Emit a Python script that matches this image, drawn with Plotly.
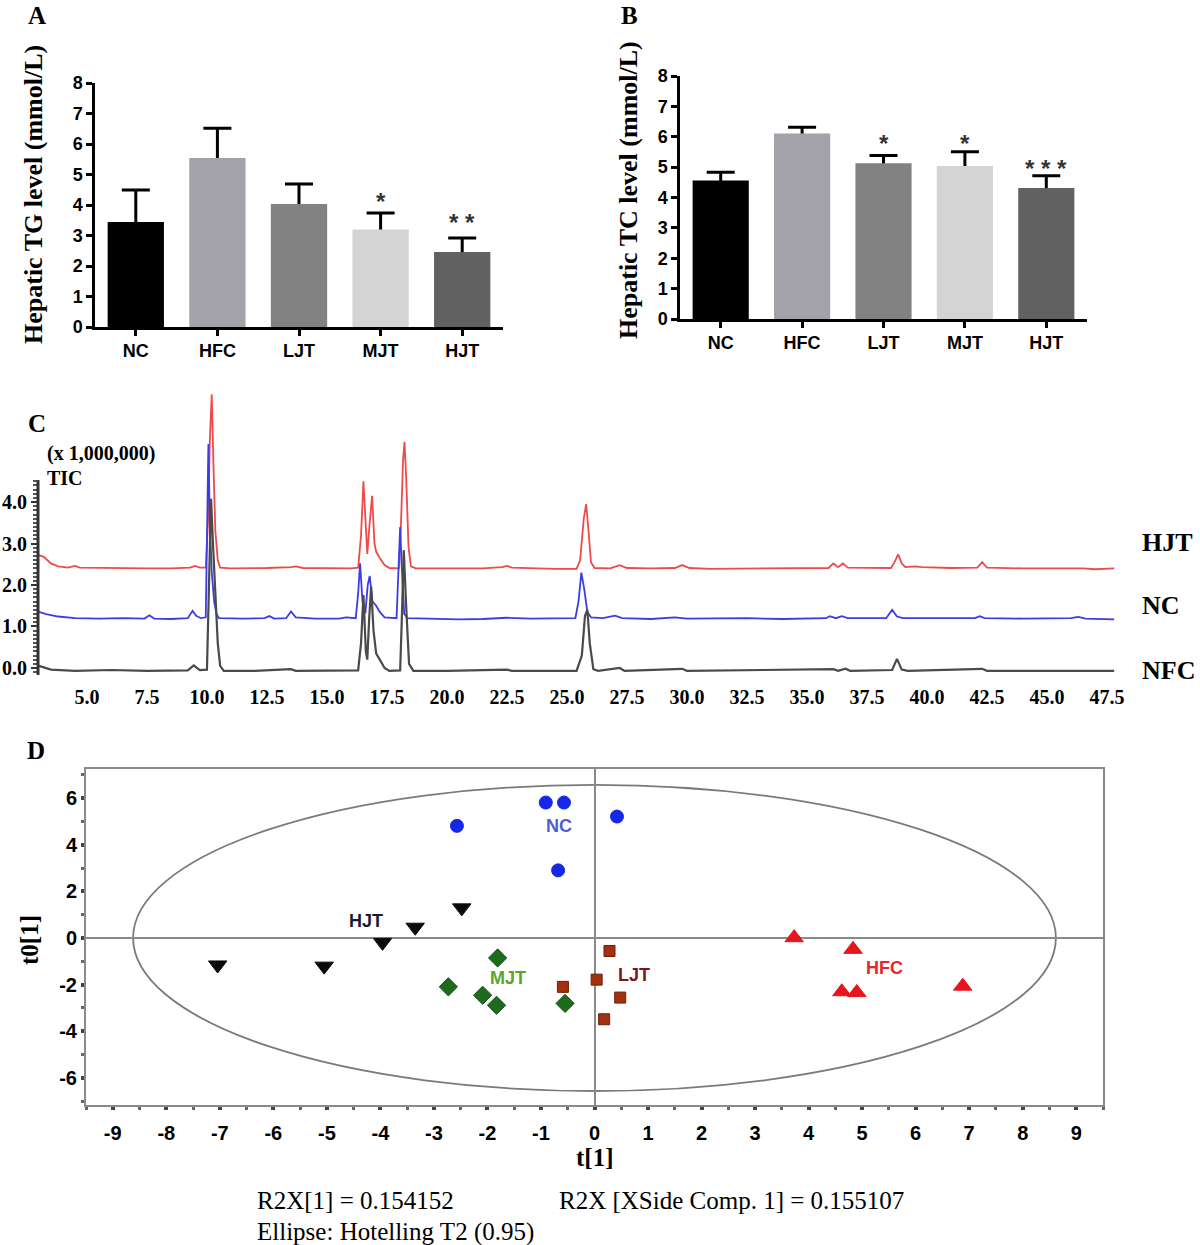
import plotly.graph_objects as go

W, H = 1200, 1245
SERIF = "Liberation Serif, Times New Roman, serif"
SANS = "Liberation Sans, Arial, sans-serif"

# ---------------- Panel A / B data ----------------
groups = ["NC", "HFC", "LJT", "MJT", "HJT"]
bar_colors = ["#000000", "#a2a2a8", "#828282", "#d4d4d4", "#616161"]

tg_mean = [3.44, 5.54, 4.03, 3.20, 2.46]
tg_err = [1.05, 0.98, 0.66, 0.54, 0.46]
tg_sig = ["", "", "", "*", "* *"]
tg_sig_y = [None, None, None, 4.30, 3.61]

tc_mean = [4.56, 6.11, 5.13, 5.04, 4.31]
tc_err = [0.27, 0.20, 0.25, 0.47, 0.41]
tc_sig = ["", "", "*", "*", "* * *"]
tc_sig_y = [None, None, 5.99, 5.99, 5.16]

# ---------------- Panel C data (retention time, intensity x1e6) ----------------
hjt_t = [3.0, 3.2, 3.5, 3.8, 4.2, 4.5, 4.7, 5.5, 6.0, 6.5, 7.5, 8.5, 9.3, 9.5, 9.7, 9.95,
         10.05, 10.12, 10.2, 10.27, 10.35, 10.45, 10.55, 11.0, 12.0, 12.5, 13.5, 13.7, 14.0,
         15.0, 16.0, 16.3, 16.42, 16.52, 16.62, 16.68, 16.78, 16.88, 16.98, 17.05, 17.2, 17.4,
         17.6, 18.0, 18.08, 18.17, 18.23, 18.3, 18.4, 18.5, 18.7, 19.5, 20.5, 21.5, 22.3, 22.5,
         22.7, 23.5, 24.5, 25.4, 25.55, 25.7, 25.8, 25.9, 26.0, 26.15, 26.8, 27.2, 27.5, 28.5,
         29.5, 29.8, 30.1, 31.0, 33.0, 35.0, 35.9, 36.1, 36.3, 36.5, 36.7, 38.5, 38.65, 38.8,
         38.95, 39.1, 39.5, 39.8, 41.0, 42.1, 42.3, 42.5, 44.0, 46.5, 47.0, 47.8]
hjt_v = [2.72, 2.68, 2.52, 2.45, 2.42, 2.46, 2.42, 2.41, 2.42, 2.40, 2.40, 2.40, 2.42, 2.46, 2.42, 2.42,
         3.60, 5.50, 6.60, 4.90, 3.30, 2.60, 2.42, 2.40, 2.40, 2.41, 2.43, 2.45, 2.41,
         2.40, 2.40, 2.42, 3.20, 4.50, 3.30, 2.75, 3.50, 4.15, 3.00, 2.80, 2.65, 2.48,
         2.41, 2.40, 3.40, 5.00, 5.45, 4.60, 2.90, 2.45, 2.40, 2.40, 2.40, 2.40, 2.43, 2.46,
         2.42, 2.40, 2.39, 2.39, 2.60, 3.60, 3.95, 3.30, 2.55, 2.41, 2.40, 2.48, 2.41, 2.40,
         2.41, 2.48, 2.41, 2.39, 2.40, 2.40, 2.41, 2.52, 2.43, 2.52, 2.42, 2.41, 2.55, 2.74,
         2.52, 2.43, 2.45, 2.43, 2.41, 2.42, 2.55, 2.42, 2.40, 2.40, 2.38, 2.40]

nc_t = [3.0, 3.3, 3.8, 4.5, 5.5, 6.5, 7.4, 7.6, 7.8, 8.5, 9.2, 9.4, 9.55, 9.75, 9.95, 10.0,
        10.06, 10.12, 10.2, 10.3, 10.4, 10.5, 11.5, 12.4, 12.6, 12.8, 13.3, 13.5, 13.7, 14.5,
        15.5, 15.8, 16.2, 16.3, 16.38, 16.48, 16.6, 16.7, 16.78, 16.9, 17.05, 17.2, 17.4, 17.9,
        17.98, 18.05, 18.12, 18.22, 18.35, 19.5, 20.5, 21.5, 22.5, 23.5, 24.5, 25.35, 25.48,
        25.6, 25.72, 25.85, 26.0, 26.5, 27.0, 27.3, 28.5, 29.5, 30.0, 31.5, 32.5, 34.0, 35.8,
        35.95, 36.2, 36.45, 36.7, 38.3, 38.55, 38.75, 39.0, 40.5, 42.0, 42.2, 42.4, 44.0, 46.0,
        46.3, 46.6, 47.8]
nc_v = [1.35, 1.30, 1.24, 1.20, 1.19, 1.20, 1.19, 1.27, 1.19, 1.18, 1.20, 1.38, 1.26, 1.20, 1.22, 3.00,
        5.40, 3.50, 2.30, 1.60, 1.30, 1.20, 1.19, 1.20, 1.25, 1.19, 1.20, 1.36, 1.22, 1.19,
        1.19, 1.22, 1.20, 1.80, 2.52, 1.60, 1.32, 2.00, 2.22, 1.60, 1.50, 1.35, 1.22, 1.20,
        2.50, 3.40, 2.40, 1.30, 1.20, 1.19, 1.17, 1.18, 1.21, 1.19, 1.20, 1.20, 1.60,
        2.30, 1.90, 1.35, 1.22, 1.20, 1.26, 1.20, 1.18, 1.22, 1.19, 1.19, 1.20, 1.18, 1.20,
        1.25, 1.20, 1.25, 1.20, 1.20, 1.40, 1.24, 1.20, 1.20, 1.20, 1.25, 1.20, 1.19, 1.20,
        1.23, 1.19, 1.17]

nfc_t = [3.0, 3.2, 3.5, 4.5, 6.0, 7.5, 9.2, 9.45, 9.7, 10.0, 10.08, 10.17, 10.25, 10.35, 10.45,
         10.55, 10.7, 12.0, 13.5, 13.7, 15.0, 16.3, 16.42, 16.52, 16.62, 16.68, 16.76, 16.84,
         16.94, 17.05, 17.2, 17.4, 17.6, 18.05, 18.12, 18.2, 18.3, 18.42, 18.6, 20.0, 22.5, 22.7,
         25.4, 25.62, 25.75, 25.85, 25.95, 26.1, 26.3, 27.2, 27.4, 29.8, 30.0, 36.1, 36.3, 36.6,
         36.8, 38.55, 38.75, 38.95, 39.2, 42.3, 42.5, 47.8]
nfc_v = [0.05, 0.02, -0.04, -0.07, -0.05, -0.07, -0.06, 0.06, -0.05, -0.04, 1.80, 4.08, 3.00, 1.70, 0.60,
         0.05, -0.07, -0.07, -0.03, -0.07, -0.07, -0.06, 0.60, 1.76, 0.40, 0.20, 1.20, 1.96,
         0.90, 0.35, 0.20, 0.00, -0.07, -0.06, 1.20, 2.84, 1.50, 0.10, -0.07, -0.07, -0.04, -0.07,
         -0.07, 0.30, 1.25, 1.40, 0.60, -0.03, -0.07, 0.00, -0.07, -0.02, -0.07, -0.03, -0.07, -0.02,
         -0.07, -0.05, 0.22, -0.04, -0.07, -0.02, -0.07, -0.07]

chrom_names = ["HJT", "NC", "NFC"]
chrom_colors = ["#ef4a4a", "#3c3ce6", "#4a4a4a"]

# ---------------- Panel D data (scores) ----------------
nc_t1 = [-0.91, -0.57, -2.57, -0.68, 0.42]
nc_t0 = [5.81, 5.81, 4.81, 2.90, 5.21]
hjt_t1 = [-2.48, -3.35, -3.96, -5.05, -7.04]
hjt_t0 = [1.29, 0.46, -0.19, -1.21, -1.16]
mjt_t1 = [-1.81, -2.73, -2.09, -1.83, -0.55]
mjt_t0 = [-0.86, -2.10, -2.46, -2.89, -2.81]
ljt_t1 = [-0.59, 0.04, 0.28, 0.48, 0.18]
ljt_t0 = [-2.10, -1.79, -0.56, -2.56, -3.49]
hfc_t1 = [3.73, 4.83, 4.62, 4.90, 6.88]
hfc_t0 = [0.01, -0.49, -2.31, -2.34, -2.07]

d_label_text = ["NC", "HJT", "MJT", "LJT", "HFC"]
d_label_x = [-0.66, -4.26, -1.62, 0.74, 5.42]
d_label_y = [4.79, 0.71, -1.71, -1.60, -1.27]
d_label_colors = ["#4b5fd6", "#1a1a2e", "#5aa62a", "#7a1526", "#e8252a"]

ellipse_a = 8.62
ellipse_b = 6.57

d_xticks = list(range(-9, 10))
d_yticks = [-6, -4, -2, 0, 2, 4, 6]

# ---------------- helpers ----------------
def xd(a, b):
    return [a / W, b / W]


def yd(top, bottom):
    return [1 - bottom / H, 1 - top / H]


def ann(text, px, py, size, family=SERIF, bold=True, color="black", angle=0, xanchor="center"):
    return dict(text=text, x=px / W, y=1 - py / H, xref="paper", yref="paper", showarrow=False,
                xanchor=xanchor, yanchor="middle", textangle=angle,
                font=dict(family=family, size=size, color=color, weight="bold" if bold else "normal"))


fig = go.Figure()

# ---------------- Panels A and B ----------------
for (means, errs, xa, ya) in [(tg_mean, tg_err, "x", "y"), (tc_mean, tc_err, "x2", "y2")]:
    fig.add_trace(go.Bar(x=groups, y=means, xaxis=xa, yaxis=ya, width=0.69,
                         marker=dict(color="rgba(0,0,0,0)", line=dict(width=0)),
                         error_y=dict(type="data", symmetric=False, array=errs,
                                      arrayminus=[0.3] * len(groups), color="black",
                                      thickness=3, width=14),
                         showlegend=False, hoverinfo="skip"))
    fig.add_trace(go.Bar(x=groups, y=means, xaxis=xa, yaxis=ya, width=0.69,
                         marker=dict(color=bar_colors, line=dict(width=0)),
                         showlegend=False))

# ---------------- Panel C ----------------
for t, v, c, name in zip([hjt_t, nc_t, nfc_t], [hjt_v, nc_v, nfc_v], chrom_colors, chrom_names):
    fig.add_trace(go.Scatter(x=t, y=v, mode="lines", name=name,
                             line=dict(color=c, width=1.8 if name != "NFC" else 2.2),
                             xaxis="x3", yaxis="y3", showlegend=False))

# ---------------- Panel D ----------------
d_series = [
    (nc_t1, nc_t0, "circle", 13, "#1428e6", "#1428e6"),
    (hjt_t1, hjt_t0, "triangle-down", 16, "#0a0a0a", "#0a0a0a"),
    (mjt_t1, mjt_t0, "diamond", 14, "#1e6b1e", "#154d15"),
    (ljt_t1, ljt_t0, "square", 11, "#a3300f", "#6e1f08"),
    (hfc_t1, hfc_t0, "triangle-up", 16, "#e8141e", "#e8141e"),
]
for xs, ys, sym, size, col, lc in d_series:
    fig.add_trace(go.Scatter(x=xs, y=ys, mode="markers", xaxis="x4", yaxis="y4",
                             marker=dict(symbol=sym, size=size, color=col, line=dict(color=lc, width=1)),
                             showlegend=False))

# ---------------- axes ----------------
bar_x = dict(range=[-0.5, 4.5], showline=True, linecolor="black", linewidth=2.5,
             ticks="outside", ticklen=6, tickwidth=2.5, tickcolor="black",
             showgrid=False, zeroline=False, fixedrange=True,
             tickfont=dict(family=SANS, size=18, color="black", weight="bold"))
bar_y = dict(range=[0, 8], dtick=1, showline=True, linecolor="black", linewidth=2.5,
             ticks="outside", ticklen=6, tickwidth=2.5, tickcolor="black",
             showgrid=False, zeroline=False,
             tickfont=dict(family=SANS, size=18, color="black", weight="bold"))

layout = dict(
    width=W, height=H, margin=dict(l=0, r=0, t=0, b=0),
    paper_bgcolor="white", plot_bgcolor="white", template="none",
    barmode="overlay", showlegend=False,
    xaxis=dict(bar_x, domain=xd(95, 503), anchor="y"),
    yaxis=dict(bar_y, domain=yd(83, 327), anchor="x"),
    xaxis2=dict(bar_x, domain=xd(680, 1087), anchor="y2"),
    yaxis2=dict(bar_y, domain=yd(76, 319), anchor="x2"),
    xaxis3=dict(domain=xd(38, 1118), anchor="y3", range=[2.96, 47.96],
                tick0=5, dtick=2.5, tickformat=".1f", showline=False, ticks="",
                showgrid=False, zeroline=False, ticklabelstandoff=8,
                tickfont=dict(family=SERIF, size=20, color="black", weight="bold")),
    yaxis3=dict(domain=yd(388, 675), anchor="x3", range=[-0.17, 6.75],
                tickvals=[0, 1, 2, 3, 4], ticktext=["0.0", "1.0", "2.0", "3.0", "4.0"],
                showline=False, ticks="outside", ticklen=6, tickwidth=2, tickcolor="#333",
                minor=dict(tickmode="array", tickvals=[round(-0.1 + 0.1 * i, 2) for i in range(47)],
                           ticks="outside", ticklen=4, tickwidth=1.5, tickcolor="#555"),
                showgrid=False, zeroline=False,
                tickfont=dict(family=SERIF, size=20, color="black", weight="bold")),
    xaxis4=dict(domain=xd(86, 1103), anchor="y4", range=[-9.5, 9.5],
                tickvals=d_xticks, ticktext=[str(v) for v in d_xticks],
                showline=True, mirror=True, linecolor="#8a8a8a", linewidth=2,
                ticks="outside", ticklen=3, tickwidth=4, tickcolor="#444",
                minor=dict(dtick=0.5, tick0=0, ticks="outside", ticklen=3, tickwidth=3, tickcolor="#666"),
                showgrid=False, zeroline=True, zerolinecolor="#8a8a8a", zerolinewidth=2,
                ticklabelstandoff=6,
                tickfont=dict(family=SANS, size=20, color="black", weight="bold")),
    yaxis4=dict(domain=yd(769, 1105), anchor="x4", range=[-7.17, 7.25],
                tickvals=d_yticks, ticktext=[str(v) for v in d_yticks],
                showline=True, mirror=True, linecolor="#8a8a8a", linewidth=2,
                ticks="outside", ticklen=3, tickwidth=4, tickcolor="#444",
                minor=dict(dtick=1, tick0=0, ticks="outside", ticklen=3, tickwidth=3, tickcolor="#666"),
                showgrid=False, zeroline=True, zerolinecolor="#8a8a8a", zerolinewidth=2,
                tickfont=dict(family=SANS, size=20, color="black", weight="bold")),
)
fig.update_layout(**layout)

# ---------------- shapes ----------------
fig.add_shape(type="line", xref="x3 domain", yref="y3", x0=0, x1=0, y0=-0.17, y1=4.53,
              line=dict(color="#333", width=3))
fig.add_shape(type="circle", xref="x4", yref="y4", x0=-ellipse_a, x1=ellipse_a,
              y0=-ellipse_b, y1=ellipse_b, line=dict(color="#7a7a7a", width=1.8), layer="below")

# ---------------- annotations ----------------
annots = [
    ann("A", 37, 15, 25), ann("B", 629, 15, 25), ann("C", 37, 423, 25), ann("D", 36, 750, 25),
    ann("Hepatic TG level (mmol/L)", 34, 195, 26, angle=-90),
    ann("Hepatic TC level (mmol/L)", 628, 190, 26, angle=-90),
    ann("(x 1,000,000)", 45, 453, 20, xanchor="left"),
    ann("TIC", 45, 478, 20, xanchor="left"),
    ann("HJT", 1140, 542, 26, xanchor="left"),
    ann("NC", 1140, 606, 26, xanchor="left"),
    ann("NFC", 1140, 670, 26, xanchor="left"),
    ann("t0[1]", 30, 940, 25, angle=-90),
    ann("t[1]", 594, 1157, 25),
    ann("R2X[1] = 0.154152", 255, 1200, 25, bold=False, xanchor="left"),
    ann("R2X [XSide Comp. 1] = 0.155107", 557, 1200, 25, bold=False, xanchor="left"),
    ann("Ellipse: Hotelling T2 (0.95)", 255, 1232, 25, bold=False, xanchor="left"),
]
for sigs, sig_y, xa, ya in [(tg_sig, tg_sig_y, "x", "y"), (tc_sig, tc_sig_y, "x2", "y2")]:
    for g, s, yv in zip(groups, sigs, sig_y):
        if s:
            annots.append(dict(text=s, x=g, y=yv, xref=xa, yref=ya, showarrow=False,
                               yanchor="middle", yshift=-6,
                               font=dict(family=SANS, size=24, color="#333", weight="bold")))
for txt, lx, ly, lc in zip(d_label_text, d_label_x, d_label_y, d_label_colors):
    annots.append(dict(text=txt, x=lx, y=ly, xref="x4", yref="y4", showarrow=False,
                       font=dict(family=SANS, size=18, color=lc, weight="bold")))
fig.update_layout(annotations=annots)

fig.write_html("out.html", include_plotlyjs=True, config={"displayModeBar": False},
               post_script="document.body.style.margin='0';document.body.style.overflow='hidden';")
